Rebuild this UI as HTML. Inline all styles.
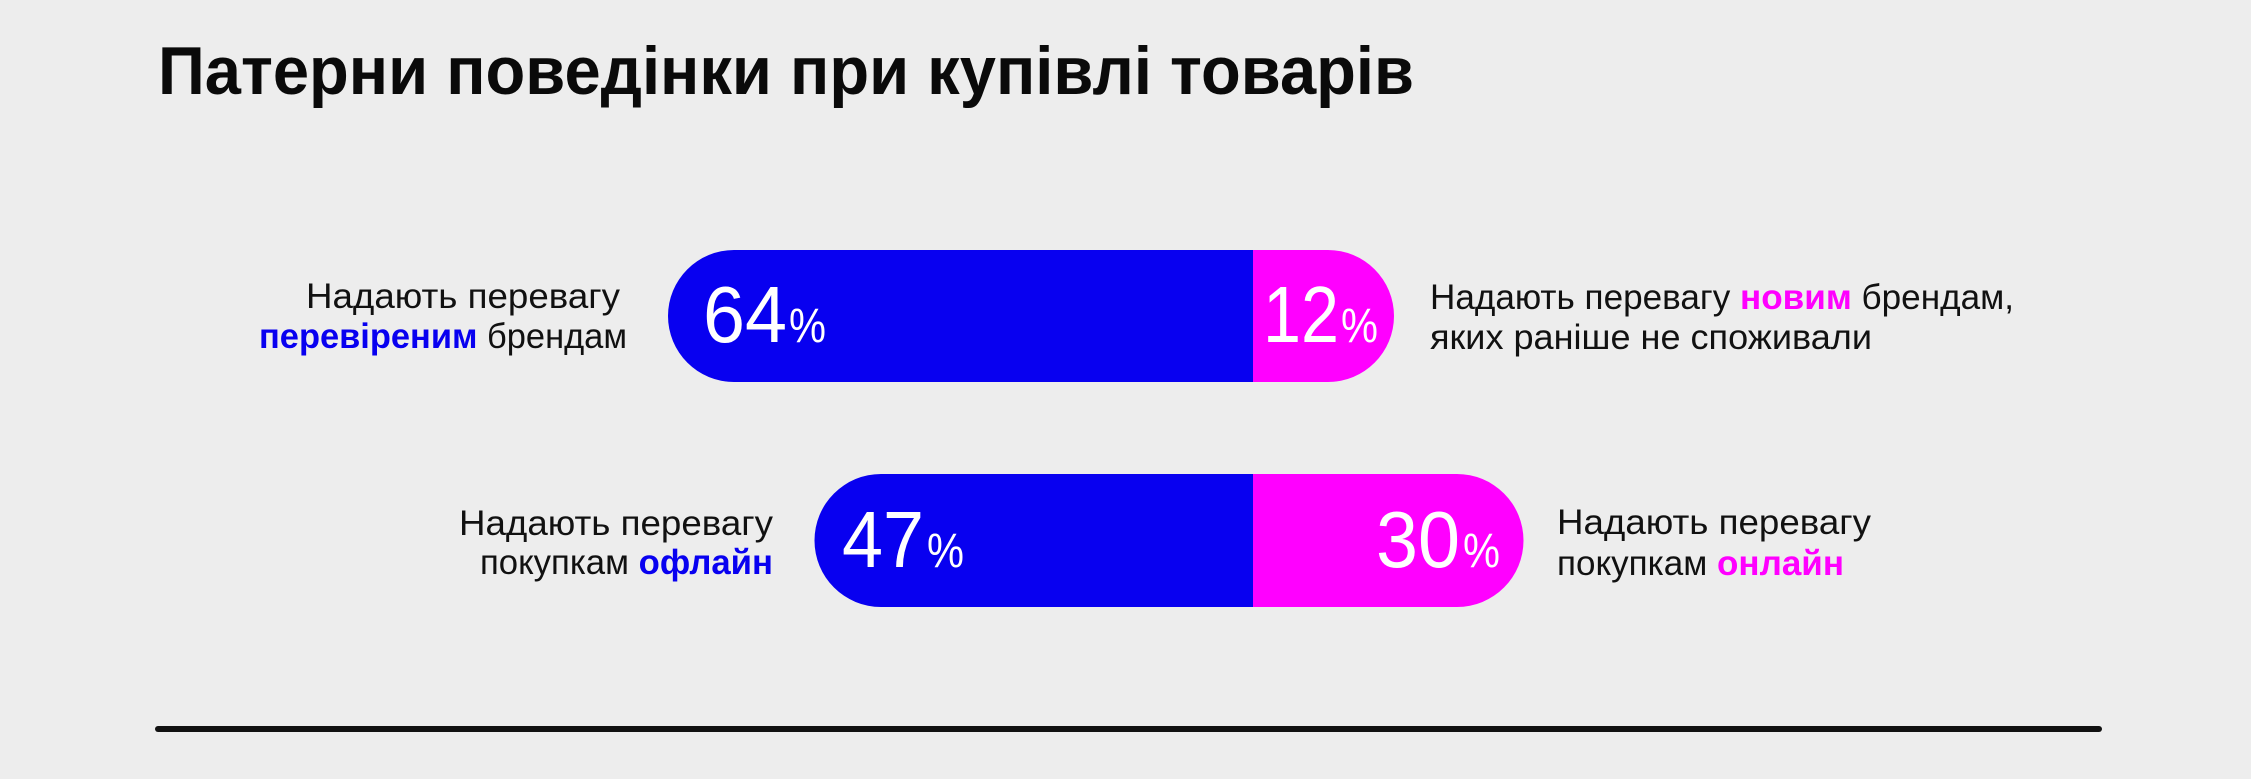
<!DOCTYPE html>
<html><head><meta charset="utf-8"><style>
html,body{margin:0;padding:0;background:#ededed;}
svg{display:block;}
text{font-family:"Liberation Sans",sans-serif;}
</style></head><body>
<svg width="2251" height="779" viewBox="0 0 2251 779" xmlns="http://www.w3.org/2000/svg">
<rect width="2251" height="779" fill="#ededed"/>
<text x="158" y="94" font-size="68" font-weight="bold" fill="#0a0a0a" textLength="1256" lengthAdjust="spacingAndGlyphs">Патерни поведінки при купівлі товарів</text>

<!-- bar 1 -->
<path d="M734,250 H1253 V382 H734 A66,66 0 0 1 734,250 Z" fill="#0800f0"/>
<path d="M1253,250 H1328 A66,66 0 0 1 1328,382 H1253 Z" fill="#ff00ff"/>
<text x="703" y="342" fill="#fff" font-size="80" textLength="84" lengthAdjust="spacingAndGlyphs">64</text>
<text x="789" y="342" fill="#fff" font-size="48" textLength="37" lengthAdjust="spacingAndGlyphs">%</text>
<text x="1263" y="342" fill="#fff" font-size="80" textLength="76" lengthAdjust="spacingAndGlyphs">12</text>
<text x="1341" y="342" fill="#fff" font-size="48" textLength="37" lengthAdjust="spacingAndGlyphs">%</text>

<!-- bar 2 -->
<path d="M881,474 H1253 V607 H881 A66.5,66.5 0 0 1 881,474 Z" fill="#0800f0"/>
<path d="M1253,474 H1457 A66.5,66.5 0 0 1 1457,607 H1253 Z" fill="#ff00ff"/>
<text x="842" y="567" fill="#fff" font-size="80" textLength="82" lengthAdjust="spacingAndGlyphs">47</text>
<text x="927" y="567" fill="#fff" font-size="48" textLength="37" lengthAdjust="spacingAndGlyphs">%</text>
<text x="1376" y="567" fill="#fff" font-size="80" textLength="84" lengthAdjust="spacingAndGlyphs">30</text>
<text x="1463" y="567" fill="#fff" font-size="48" textLength="37" lengthAdjust="spacingAndGlyphs">%</text>

<!-- left labels -->
<g font-size="35" fill="#111" text-anchor="end">
<text x="620" y="308" textLength="314" lengthAdjust="spacingAndGlyphs">Надають перевагу</text>
<text x="627" y="348" textLength="368" lengthAdjust="spacingAndGlyphs"><tspan fill="#0800f0" font-weight="bold">перевіреним</tspan> брендам</text>
<text x="773" y="535" textLength="314" lengthAdjust="spacingAndGlyphs">Надають перевагу</text>
<text x="773" y="574" textLength="293" lengthAdjust="spacingAndGlyphs">покупкам <tspan fill="#0800f0" font-weight="bold">офлайн</tspan></text>
</g>
<!-- right labels -->
<g font-size="35" fill="#111">
<text x="1430" y="309" textLength="584" lengthAdjust="spacingAndGlyphs">Надають перевагу <tspan fill="#ff00ff" font-weight="bold">новим</tspan> брендам,</text>
<text x="1430" y="349" textLength="442" lengthAdjust="spacingAndGlyphs">яких раніше не споживали</text>
<text x="1557" y="534" textLength="314" lengthAdjust="spacingAndGlyphs">Надають перевагу</text>
<text x="1557" y="575" textLength="287" lengthAdjust="spacingAndGlyphs">покупкам <tspan fill="#ff00ff" font-weight="bold">онлайн</tspan></text>
</g>

<line x1="158" y1="729" x2="2099" y2="729" stroke="#111" stroke-width="6" stroke-linecap="round"/>
</svg>
</body></html>
